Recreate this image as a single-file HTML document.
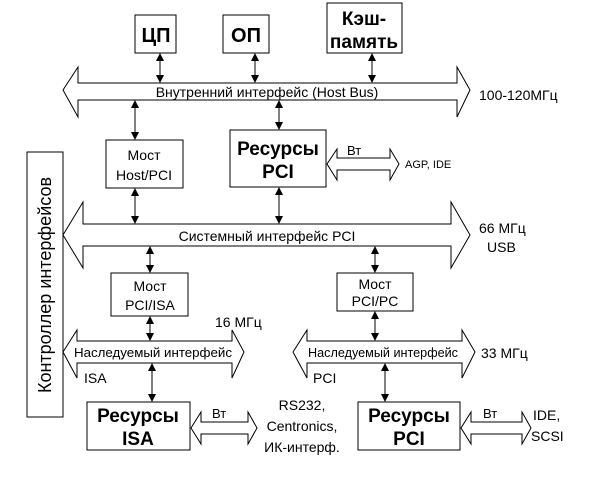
<!DOCTYPE html>
<html><head><meta charset="utf-8"><style>body{margin:0;background:#fff}svg{display:block}</style></head><body>
<svg width="601" height="480" viewBox="0 0 601 480" xmlns="http://www.w3.org/2000/svg" font-family="Liberation Sans, Arial, sans-serif">
<defs>
<marker id="h" markerWidth="8" markerHeight="8" refX="7" refY="4" orient="auto-start-reverse" markerUnits="userSpaceOnUse"><path d="M0,0 L8,4 L0,8 z" fill="#000"/></marker>
</defs>
<g fill="#fff" stroke="#000" stroke-width="1">
<rect x="135" y="15" width="41" height="38"/>
<rect x="223" y="15" width="46" height="38"/>
<rect x="327" y="3" width="75" height="50"/>
<polygon points="63,90 78,67 78,83 457,83 457,67 470,90 457,117 457,100 78,100 78,117"/>
<polygon points="63,235 83,202 83,224 451,224 451,202 470,235 451,268 451,246 83,246 83,268"/>
<polygon points="63,352 77,330 77,341 232,341 232,330 244,352 232,378 232,363 77,363 77,378"/>
<polygon points="293,352 307,330 307,341 462,341 462,330 475,352 462,378 462,363 307,363 307,378"/>
<polygon points="327,164 337,149 337,158 390,158 390,149 399,164 390,180 390,170 337,170 337,180"/>
<polygon points="191,428 201,412 201,422 248,422 248,412 257,428 248,444 248,434 201,434 201,444"/>
<polygon points="461,428 471,412 471,422 522,422 522,412 531,428 522,444 522,434 471,434 471,444"/>
<rect x="106" y="140" width="77" height="48"/>
<rect x="230" y="130" width="96" height="57"/>
<rect x="111" y="273" width="77" height="43"/>
<rect x="337" y="273" width="76" height="38"/>
<rect x="87" y="402" width="103" height="48"/>
<rect x="358" y="402" width="102" height="48"/>
<rect x="27" y="152" width="36" height="265"/>
</g>
<g stroke="#000" stroke-width="1" marker-start="url(#h)" marker-end="url(#h)">
<line x1="160" y1="54" x2="160" y2="82"/>
<line x1="255" y1="54" x2="255" y2="82"/>
<line x1="372" y1="54" x2="372" y2="82"/>
<line x1="135" y1="101" x2="135" y2="139"/>
<line x1="279" y1="101" x2="279" y2="129"/>
<line x1="135" y1="189" x2="135" y2="223"/>
<line x1="279" y1="188" x2="279" y2="223"/>
<line x1="150" y1="247" x2="150" y2="272"/>
<line x1="375" y1="247" x2="375" y2="272"/>
<line x1="150" y1="317" x2="150" y2="340"/>
<line x1="375" y1="312" x2="375" y2="340"/>
<line x1="152" y1="364" x2="152" y2="401"/>
<line x1="385" y1="364" x2="385" y2="401"/>
</g>
<g fill="#000" text-anchor="middle">
<text x="156" y="42" font-size="20" font-weight="bold">ЦП</text>
<text x="246" y="42" font-size="20" font-weight="bold">ОП</text>
<text x="364" y="25" font-size="19" font-weight="bold">Кэш-</text>
<text x="364" y="48" font-size="19" font-weight="bold">память</text>
<text x="267" y="97" font-size="14">Внутренний интерфейс (Host Bus)</text>
<text x="144" y="160" font-size="14">Мост</text>
<text x="144" y="180" font-size="14">Host/PCI</text>
<text x="278" y="155" font-size="19" font-weight="bold">Ресурсы</text>
<text x="278" y="178" font-size="19" font-weight="bold">PCI</text>
<text x="267" y="241" font-size="14">Системный интерфейс PCI</text>
<text x="150" y="291" font-size="14">Мост</text>
<text x="150" y="310" font-size="14">PCI/ISA</text>
<text x="375" y="289" font-size="14">Мост</text>
<text x="375" y="306" font-size="14">PCI/PC</text>
<text x="153" y="357" font-size="13" textLength="158" lengthAdjust="spacingAndGlyphs">Наследуемый интерфейс</text>
<text x="383" y="357" font-size="13" textLength="150" lengthAdjust="spacingAndGlyphs">Наследуемый интерфейс</text>
<text x="138" y="422" font-size="19" font-weight="bold">Ресурсы</text>
<text x="138" y="445" font-size="19" font-weight="bold">ISA</text>
<text x="409" y="422" font-size="19" font-weight="bold">Ресурсы</text>
<text x="409" y="445" font-size="19" font-weight="bold">PCI</text>
<text x="302" y="410" font-size="14">RS232,</text>
<text x="302" y="431" font-size="14">Centronics,</text>
<text x="302" y="452" font-size="14">ИК-интерф.</text>
</g>
<g fill="#000" font-size="14">
<text x="479" y="100">100-120МГц</text>
<text x="479" y="233">66 МГц</text>
<text x="487" y="252">USB</text>
<text x="215" y="327">16 МГц</text>
<text x="84" y="383">ISA</text>
<text x="481" y="358">33 МГц</text>
<text x="313" y="383">PCI</text>
<text x="347" y="155" font-size="13">Вт</text>
<text x="405" y="168" font-size="11">AGP, IDE</text>
<text x="212" y="418" font-size="13">Вт</text>
<text x="483" y="418" font-size="13">Вт</text>
<text x="533" y="420">IDE,</text>
<text x="531" y="441">SCSI</text>
</g>
<text transform="translate(51,285) rotate(-90)" text-anchor="middle" font-size="18" fill="#000">Контроллер интерфейсов</text>
</svg>
</body></html>
